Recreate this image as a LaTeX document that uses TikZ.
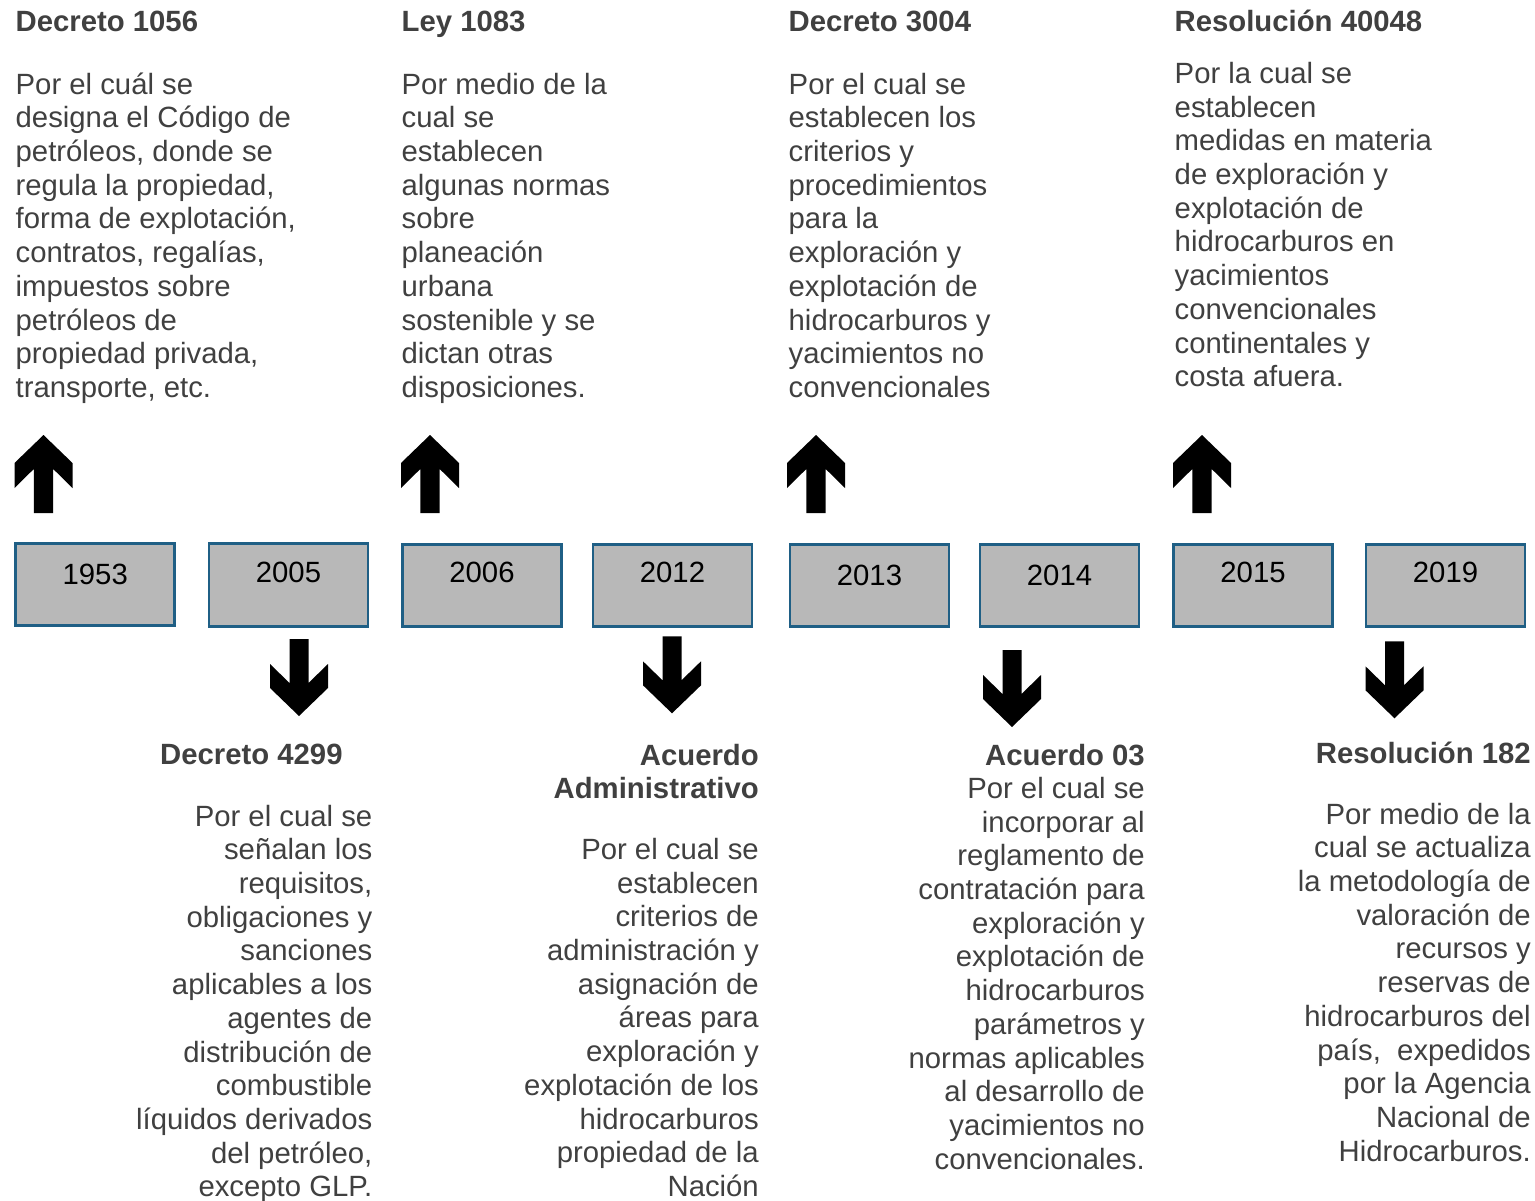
\documentclass[tikz,border=0pt]{standalone}
\usepackage{fontspec}
\setmainfont{Liberation Sans}
\definecolor{txt}{HTML}{404040}
\definecolor{boxfill}{HTML}{B8B8B8}
\definecolor{boxline}{HTML}{1F5F85}
\newcommand\tlfont{\fontsize{29.3}{33.7}\selectfont}
\tikzset{
  txtl/.style={anchor=north west, inner sep=0pt, align=left, text=txt, font=\tlfont},
  txtr/.style={anchor=north east, inner sep=0pt, align=right, text=txt, font=\tlfont},
  hdl/.style={txtl, font=\tlfont\bfseries},
  hdr/.style={txtr, font=\tlfont\bfseries},
  yearbox/.style={draw=boxline, line width=2.7pt, fill=boxfill, minimum width=159pt,
    minimum height=82.5pt, inner sep=0pt, font=\tlfont, text=black,
    text height=20pt, text depth=26pt},
  uparr/.pic={\fill[black] (0,0) -- (29,28) -- (29,53) -- (9.7,34) -- (9.7,78) -- (-9.7,78)
    -- (-9.7,34) -- (-29,53) -- (-29,28) -- cycle;},
  downarr/.pic={\fill[black] (0,0) -- (29,-28) -- (29,-52) -- (9.5,-33) -- (9.5,-77) -- (-9.5,-77)
    -- (-9.5,-33) -- (-29,-52) -- (-29,-28) -- cycle;}
}
\begin{document}
\begin{tikzpicture}[x=1pt, y=-1pt]
\useasboundingbox[fill=white] (0,0) rectangle (1535,1201);

% year boxes
\node[yearbox, text depth=21pt] (b1953) at (95.25,584.5) {1953};
\node[yearbox] (b2005) at (288.5,585) {2005};
\node[yearbox] (b2006) at (482,585.5) {2006};
\node[yearbox] (b2012) at (672.5,585.5) {2012};
\node[yearbox, text depth=21pt] (b2013) at (869.5,585.5) {2013};
\node[yearbox, text depth=21pt] (b2014) at (1059.5,585.5) {2014};
\node[yearbox] (b2015) at (1253,585.5) {2015};
\node[yearbox] (b2019) at (1445.5,585.5) {2019};

% arrows
\pic at (43.5,435) {uparr};
\pic at (430,435) {uparr};
\pic at (816,435) {uparr};
\pic at (1202,435) {uparr};
\pic at (299,716) {downarr};
\pic at (672,713.3) {downarr};
\pic at (1012,727) {downarr};
\pic at (1394.5,718.3) {downarr};

% top texts
\node[hdl] (h1056) at (15.5,7.4) {\strut Decreto 1056};
\node[txtl] (t1056) at (15.5,70.4) {\strut Por el cuál se\\designa el Código de\\petróleos, donde se\\regula la propiedad,\\forma de explotación,\\contratos, regalías,\\impuestos sobre\\petróleos de\\propiedad privada,\\transporte, etc.};

\node[hdl] (h1083) at (401.5,7.4) {\strut Ley 1083};
\node[txtl] (t1083) at (401.5,70.4) {\strut Por medio de la\\cual se\\establecen\\algunas normas\\sobre\\planeación\\urbana\\sostenible y se\\dictan otras\\disposiciones.};

\node[hdl] (h3004) at (788.5,7.4) {\strut Decreto 3004};
\node[txtl] (t3004) at (788.5,70.4) {\strut Por el cual se\\establecen los\\criterios y\\procedimientos\\para la\\exploración y\\explotación de\\hidrocarburos y\\yacimientos no\\convencionales};

\node[hdl] (h40048) at (1174.5,8.1) {\strut Resolución 40048};
\node[txtl] (t40048) at (1174.5,59.7) {\strut Por la cual se\\establecen\\medidas en materia\\de exploración y\\explotación de\\hidrocarburos en\\yacimientos\\convencionales\\continentales y\\costa afuera.};

% bottom texts
\node[hdl] (h4299) at (160,740.4) {\strut Decreto 4299};
\node[txtr] (t4299) at (372.5,802.4) {\strut Por el cual se\\señalan los\\requisitos,\\obligaciones y\\sanciones\\aplicables a los\\agentes de\\distribución de\\combustible\\líquidos derivados\\del petróleo,\\excepto GLP.};

\node[hdr] (hacad) at (759,741.4) {\strut Acuerdo\\Administrativo};
\node[txtr] (tacad) at (759,835.7) {\strut Por el cual se\\establecen\\criterios de\\administración y\\asignación de\\áreas para\\exploración y\\explotación de los\\hidrocarburos\\propiedad de la\\Nación};

\node[hdr] (hac03) at (1145,741.4) {\strut Acuerdo 03};
\node[txtr] (tac03) at (1145,774.7) {\strut Por el cual se\\incorporar al\\reglamento de\\contratación para\\exploración y\\explotación de\\hidrocarburos\\parámetros y\\normas aplicables\\al desarrollo de\\yacimientos no\\convencionales.};

\node[hdr] (h182) at (1531,739.7) {\strut Resolución 182};
\node[txtr] (t182) at (1531,800.4) {\strut Por medio de la\\cual se actualiza\\la metodología de\\valoración de\\recursos y\\reservas de\\hidrocarburos del\\país,\ \ expedidos\\por la Agencia\\Nacional de\\Hidrocarburos.};
\end{tikzpicture}
\end{document}
